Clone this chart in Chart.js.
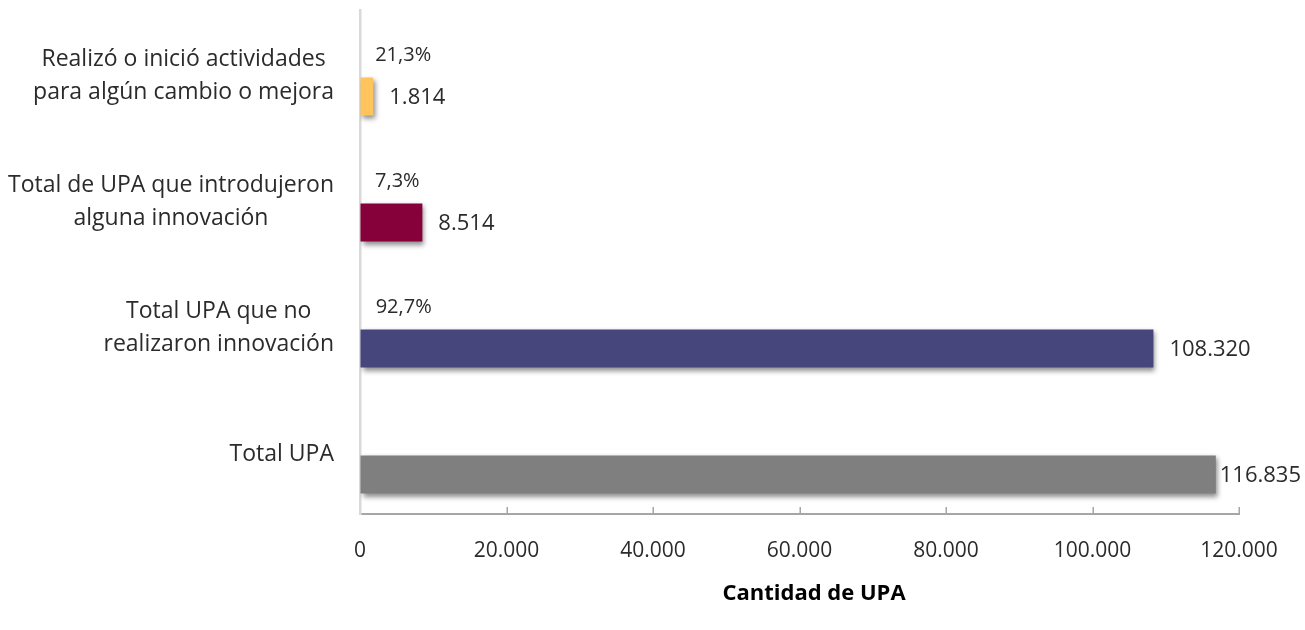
<!DOCTYPE html>
<html>
<head>
<meta charset="utf-8">
<script src="https://cdn.jsdelivr.net/npm/chart.js@4"></script>
<style>
  html, body { margin: 0; padding: 0; background: #ffffff; }
  #wrap { width: 1305px; height: 630px; position: relative; }
</style>
</head>
<body>
<div id="wrap"><canvas id="c" width="1305" height="630"></canvas></div>
<script>
const categories = [
  ["Realizó o inició actividades", "para algún cambio o mejora"],
  ["Total de UPA que introdujeron", "alguna innovación"],
  ["Total UPA que no", "realizaron innovación"],
  ["Total UPA"]
];
const upaValues = [1814, 8514, 108320, 116835];
const percentValues = [21.3, 7.3, 92.7, null];
const percentLabels = ["21,3%", "7,3%", "92,7%", ""];
const barColors = ["#FFC45B", "#86003A", "#46467D", "#7F7F7F"];
const xTickValues = [0, 20000, 40000, 60000, 80000, 100000, 120000];
const axisTitle = "Cantidad de UPA";

const FONT = "'Open Sans', 'Noto Sans', sans-serif";
const TEXT = "#2b2b2b";

function fmt(n) {
  return String(Math.round(n)).replace(/\B(?=(\d{3})+(?!\d))/g, ".");
}

const labelPlugin = {
  id: "labels",
  beforeDatasetDraw(chart, args) {
    const ctx = chart.ctx;
    ctx.save();
    ctx.shadowColor = "rgba(0,0,0,0.45)";
    ctx.shadowBlur = 5;
    ctx.shadowOffsetX = 2;
    ctx.shadowOffsetY = 3;
  },
  afterDatasetDraw(chart, args) {
    chart.ctx.restore();
  },
  afterDraw(chart) {
    const ctx = chart.ctx;
    const xs = chart.scales.x;
    const ys = chart.scales.y;
    ctx.save();
    // inside tick marks on x axis
    ctx.strokeStyle = "#a6a6a6";
    ctx.lineWidth = 1.5;
    xTickValues.forEach(v => {
      if (v === 0) return;
      const px = Math.round(xs.getPixelForValue(v)) + 0.25;
      ctx.beginPath();
      ctx.moveTo(px, xs.top);
      ctx.lineTo(px, xs.top - 7);
      ctx.stroke();
    });
    // category labels (centered lines, right-aligned block)
    ctx.fillStyle = TEXT;
    ctx.font = "23px " + FONT;
    ctx.textBaseline = "middle";
    ctx.textAlign = "center";
    const lh = 33;
    categories.forEach((lines, i) => {
      const cy = ys.getPixelForValue(i) + 3;
      const w = Math.max(...lines.map(l => ctx.measureText(l).width));
      const cx = 334 - w / 2;
      const y0 = cy - (lines.length - 1) * lh / 2;
      lines.forEach((l, k) => ctx.fillText(l, cx, y0 + k * lh));
    });
    // percent labels
    const m0 = chart.getDatasetMeta(0);
    ctx.font = "20px " + FONT;
    ctx.textAlign = "left";
    m0.data.forEach((el, i) => {
      if (percentValues[i] == null) return;
      ctx.fillText(percentLabels[i], el.x + 15, el.y + 6);
    });
    // value labels
    const m1 = chart.getDatasetMeta(1);
    ctx.font = "22px " + FONT;
    m1.data.forEach((el, i) => {
      const t = fmt(upaValues[i]);
      const w = ctx.measureText(t).width;
      let x = el.x + 16;
      if (x + w > chart.width - 4) x = chart.width - 4 - w;
      ctx.fillText(t, x, el.y + 1);
    });
    // axis title
    ctx.fillStyle = "#000000";
    ctx.font = "bold 22px " + FONT;
    ctx.textAlign = "center";
    ctx.fillText(axisTitle, 814, 594);
    ctx.restore();
  }
};

new Chart(document.getElementById("c"), {
  type: "bar",
  data: {
    labels: categories,
    datasets: [
      {
        label: "Porcentaje",
        data: percentValues,
        backgroundColor: "rgba(0,0,0,0)",
        categoryPercentage: 0.746,
        barPercentage: 0.809
      },
      {
        label: "Cantidad de UPA",
        data: upaValues,
        backgroundColor: barColors,
        categoryPercentage: 0.746,
        barPercentage: 0.809
      }
    ]
  },
  options: {
    indexAxis: "y",
    responsive: false,
    animation: false,
    events: [],
    layout: { padding: { left: 0, right: 66, top: 10, bottom: 0 } },
    plugins: {
      legend: { display: false },
      tooltip: { enabled: false }
    },
    scales: {
      x: {
        type: "linear",
        min: 0,
        max: 120000,
        afterBuildTicks(scale) { scale.ticks = xTickValues.map(v => ({ value: v })); },
        afterFit(scale) { scale.height = 116; },
        grid: { display: true, drawOnChartArea: false, drawTicks: false, color: "rgba(0,0,0,0)" },
        border: { display: true, color: "#a6a6a6", width: 2 },
        ticks: {
          color: TEXT,
          font: { family: FONT, size: 21 },
          padding: 24,
          maxRotation: 0,
          callback: v => fmt(v)
        },
        title: { display: false, text: axisTitle }
      },
      y: {
        type: "category",
        offset: true,
        afterFit(scale) { scale.width = 360; },
        grid: { display: false, drawTicks: false },
        border: { display: true, color: "#d9d9d9", width: 2.5 },
        ticks: { display: false }
      }
    }
  },
  plugins: [labelPlugin]
});
</script>
</body>
</html>
